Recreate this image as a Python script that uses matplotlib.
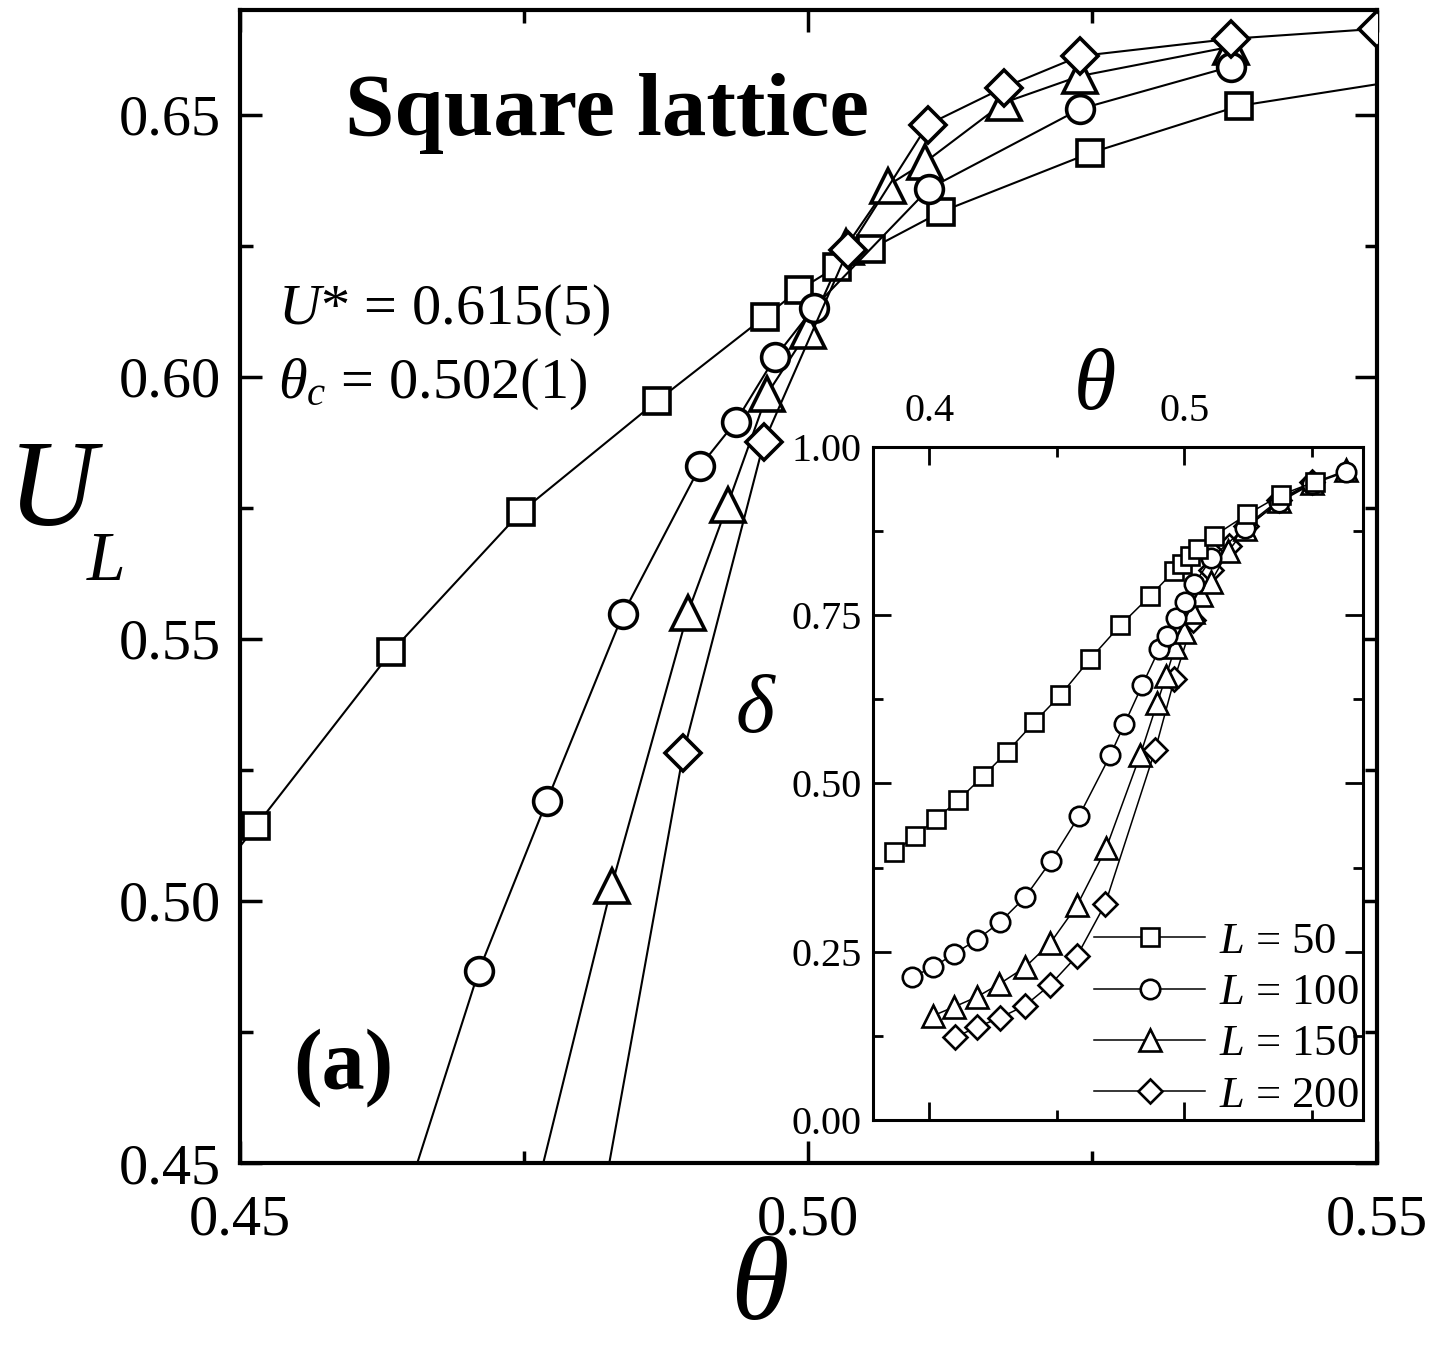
import matplotlib
matplotlib.use("Agg")
import matplotlib.pyplot as plt
from matplotlib.ticker import MultipleLocator, FormatStrFormatter

plt.rcParams['font.family'] = ['Liberation Serif', 'DejaVu Serif']
plt.rcParams['mathtext.fontset'] = 'custom'
plt.rcParams['mathtext.rm'] = 'Liberation Serif'
plt.rcParams['mathtext.it'] = 'Liberation Serif:italic'

# main panel: U_L vs theta
th50 = [0.4412, 0.4514, 0.4633, 0.4747, 0.4867, 0.4962, 0.4992, 0.5025, 0.5055, 0.5117, 0.5248, 0.5379, 0.5635]
u50 = [0.486, 0.5143, 0.5475, 0.5742, 0.5954, 0.6115, 0.6166, 0.6210, 0.6244, 0.6315, 0.6427, 0.6517, 0.6604]
th100 = [0.4588, 0.4710, 0.4770, 0.4837, 0.4905, 0.4936, 0.4971, 0.5005, 0.5106, 0.5239, 0.5372]
u100 = [0.404, 0.4866, 0.5191, 0.5548, 0.5830, 0.5914, 0.6038, 0.6132, 0.6359, 0.6511, 0.6592]
th150 = [0.4694, 0.4827, 0.4894, 0.4929, 0.4964, 0.5000, 0.5033, 0.5070, 0.5103, 0.5172, 0.5239, 0.5372]
u150 = [0.386, 0.5029, 0.5550, 0.5756, 0.5968, 0.6088, 0.6248, 0.6365, 0.6410, 0.6523, 0.6574, 0.6630]
th200 = [0.4690, 0.4890, 0.4961, 0.5035, 0.5105, 0.5172, 0.5239, 0.5372, 0.5500]
u200 = [0.288, 0.5282, 0.5876, 0.6242, 0.6481, 0.6552, 0.6612, 0.6645, 0.6664]

# inset: delta vs theta
ith50 = [0.3863, 0.3945, 0.4027, 0.4114, 0.4212, 0.4306, 0.4412, 0.4514, 0.4631, 0.4749,
         0.4867, 0.4961, 0.4992, 0.5024, 0.5055, 0.5117, 0.5247, 0.5380, 0.5510]
d50 = [0.398, 0.422, 0.447, 0.475, 0.511, 0.547, 0.591, 0.631, 0.685, 0.735,
       0.779, 0.816, 0.826, 0.838, 0.848, 0.868, 0.900, 0.929, 0.948]
ith100 = [0.3933, 0.4016, 0.4098, 0.4188, 0.4278, 0.4376, 0.4478, 0.4588, 0.4710, 0.4765, 0.4835,
          0.4902, 0.4933, 0.4969, 0.5004, 0.5039, 0.5106, 0.5239, 0.5372, 0.5500, 0.5635]
d100 = [0.2125, 0.227, 0.247, 0.268, 0.294, 0.331, 0.385, 0.452, 0.542, 0.588, 0.646,
        0.700, 0.719, 0.746, 0.770, 0.796, 0.835, 0.880, 0.918, 0.945, 0.963]
ith150 = [0.4016, 0.4098, 0.4188, 0.4275, 0.4376, 0.4475, 0.4580, 0.4694, 0.4827, 0.4894, 0.4929,
          0.4964, 0.5000, 0.5033, 0.5066, 0.5105, 0.5172, 0.5239, 0.5372, 0.5500, 0.5635]
d150 = [0.155, 0.168, 0.183, 0.202, 0.227, 0.263, 0.319, 0.404, 0.542, 0.620, 0.660,
        0.703, 0.725, 0.755, 0.780, 0.800, 0.845, 0.878, 0.920, 0.946, 0.965]
ith200 = [0.4102, 0.4188, 0.4278, 0.4376, 0.4475, 0.4580, 0.4690, 0.4886, 0.4961, 0.5035,
          0.5106, 0.5176, 0.5243, 0.5370, 0.5500]
d200 = [0.123, 0.138, 0.152, 0.170, 0.201, 0.244, 0.321, 0.550, 0.655, 0.743,
        0.817, 0.853, 0.883, 0.921, 0.948]

labels = ['50', '100', '150', '200']

fig = plt.figure(figsize=(14.46, 13.45), dpi=100)
ax = fig.add_axes([0.166, 0.1353, 0.786, 0.8573])

style = dict(color='black', mfc='white', mec='black', lw=1.5, mew=2.6)
ax.plot(th150, u150, marker='^', ms=24, zorder=2, **style)
ax.plot(th50, u50, marker='s', ms=19, zorder=3, **style)
ax.plot(th100, u100, marker='o', ms=20, zorder=4, **style)
ax.plot(th200, u200, marker='D', ms=18, zorder=5, **style)

ax.set_xlim(0.45, 0.55)
ax.set_ylim(0.45, 0.67)
ax.xaxis.set_major_locator(MultipleLocator(0.05))
ax.xaxis.set_minor_locator(MultipleLocator(0.025))
ax.yaxis.set_major_locator(MultipleLocator(0.05))
ax.yaxis.set_minor_locator(MultipleLocator(0.025))
ax.xaxis.set_major_formatter(FormatStrFormatter('%.2f'))
ax.yaxis.set_major_formatter(FormatStrFormatter('%.2f'))
ax.tick_params(which='both', direction='in', top=True, right=True, width=2.5)
ax.tick_params(which='major', length=16, labelsize=42)
ax.tick_params(which='minor', length=9)
ax.tick_params(axis='x', pad=23)
ax.tick_params(axis='y', pad=14)
for s in ax.spines.values():
    s.set_linewidth(3)

fig.text(0.2386, 0.8996, 'Square lattice', fontsize=64, fontweight='bold', va='baseline')
fig.text(0.1923, 0.759, '$U$* = 0.615(5)', fontsize=42, va='baseline')
fig.text(0.1923, 0.704, r'$\theta_c$ = 0.502(1)', fontsize=42, va='baseline')
fig.text(0.2026, 0.191, '(a)', fontsize=62, fontweight='bold', va='baseline')
fig.text(52 / 1446, 1 - 495 / 1345, 'U', fontsize=88, fontstyle='italic', ha='center', va='center')
fig.text(106 / 1446, 1 - 563 / 1345, 'L', fontsize=50, fontstyle='italic', ha='center', va='center')
fig.text(760 / 1446, 1 - 1290 / 1345, 'θ', fontsize=86, fontstyle='italic', ha='center', va='center')

# inset
ins = fig.add_axes([0.6037, 0.1673, 0.3389, 0.5004])
istyle = dict(color='black', mfc='white', mec='black', lw=1.1, mew=1.9)
h200, = ins.plot(ith200, d200, marker='D', ms=12, zorder=2, **istyle)
h150, = ins.plot(ith150, d150, marker='^', ms=16, zorder=3, **istyle)
h100, = ins.plot(ith100, d100, marker='o', ms=14, zorder=4, **istyle)
h50, = ins.plot(ith50, d50, marker='s', ms=13, zorder=5, **istyle)

ins.set_xlim(0.378, 0.570)
ins.set_ylim(0.0, 1.0)
ins.xaxis.set_major_locator(MultipleLocator(0.1))
ins.xaxis.set_minor_locator(MultipleLocator(0.05))
ins.yaxis.set_major_locator(MultipleLocator(0.25))
ins.yaxis.set_minor_locator(MultipleLocator(0.125))
ins.xaxis.set_major_formatter(FormatStrFormatter('%.1f'))
ins.yaxis.set_major_formatter(FormatStrFormatter('%.2f'))
ins.tick_params(which='both', direction='in', top=True, right=True, bottom=True,
                labeltop=True, labelbottom=False, width=2)
ins.tick_params(which='major', length=13, labelsize=29)
ins.tick_params(which='minor', length=7)
ins.tick_params(axis='x', pad=12)
ins.tick_params(axis='y', pad=8)
for s in ins.spines.values():
    s.set_linewidth(2.2)

fig.text(1095 / 1446, 1 - 388 / 1345, 'θ', fontsize=62, fontstyle='italic', ha='center', va='center')
fig.text(755 / 1446, 1 - 712 / 1345, 'δ', fontsize=60, fontstyle='italic', ha='center', va='center')

ins.legend([h50, h100, h150, h200], ['$L$ = ' + l for l in labels],
           loc='lower right', frameon=False, fontsize=32, handlelength=2.5,
           handletextpad=0.3, labelspacing=0.25, borderaxespad=0.0, borderpad=0.1)

fig.savefig('out.png', dpi=100)
